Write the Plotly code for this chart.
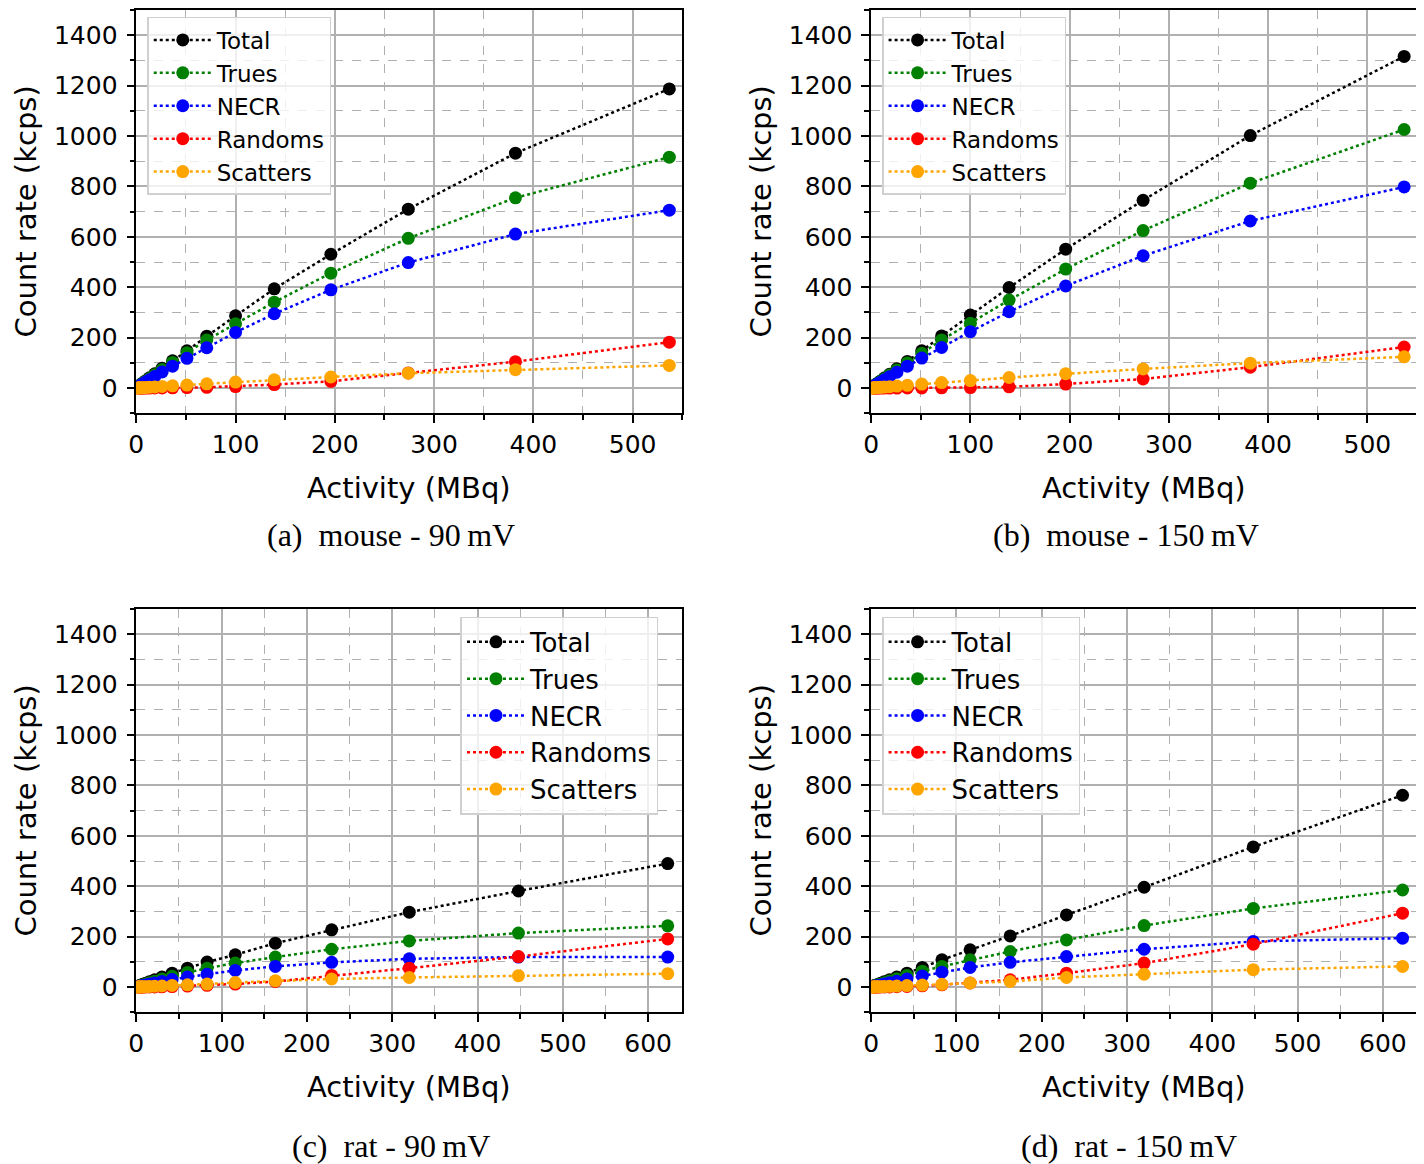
import plotly.graph_objects as go

W, H = 1424, 1164
OFF = 8  # default page body margin of the html file
FW, FH = W - OFF, H - OFF

# ---------------- data ----------------
series_names = ["Total", "Trues", "NECR", "Randoms", "Scatters"]
series_colors = ["#000000", "#008000", "#0000ff", "#ff0000", "#ffa500"]

mouse_activity = [537, 382, 274, 196, 139, 100, 71, 51, 36.5, 26, 18.6, 13.3, 9.5, 6.8, 4.8, 3.4, 2.4, 1.7]
rat_activity = [623, 448, 320, 229, 163, 116, 83, 60, 42, 30, 21.5, 15.3, 11, 7.8, 5.6, 4, 2.8, 2]

# (a) mouse - 90 mV
a_total = [1187, 932, 710, 531, 394, 287, 206, 148, 108, 79, 57, 41, 29, 21, 15, 11, 7.5, 5.4]
a_trues = [916, 755, 594, 456, 341, 255, 191, 140, 102, 74, 53, 38, 27, 19.5, 14, 10, 7, 5]
a_necr = [706, 611, 498, 390, 295, 221, 160, 118, 87, 64, 46, 33, 24, 17, 12, 8.7, 6.2, 4.4]
a_randoms = [182, 105, 60, 27, 14, 6, 3, 2, 1, 0.5, 0.3, 0.2, 0.1, 0.05, 0.03, 0.02, 0.01, 0]
a_scatters = [90, 73, 59, 44, 33, 24, 17, 12, 9, 6.5, 4.6, 3.3, 2.4, 1.7, 1.2, 0.9, 0.6, 0.4]

# (b) mouse - 150 mV
b_total = [1316, 1002, 745, 551, 399, 290, 207, 148, 106, 77, 55, 40, 28, 20, 14.5, 10, 7.4, 5.3]
b_trues = [1026, 813, 625, 472, 349, 257, 191, 138, 100, 72, 52, 37, 27, 19, 13.5, 9.6, 6.9, 4.9]
b_necr = [798, 663, 525, 405, 303, 224, 161, 119, 87, 63, 45, 33, 23, 17, 12, 8.6, 6.1, 4.4]
b_randoms = [163, 83, 36, 16, 5, 2, 1, 0.5, 0.3, 0.2, 0.1, 0.05, 0.03, 0.02, 0.01, 0, 0, 0]
b_scatters = [124, 99, 76, 57, 42, 30, 22, 16, 11, 8, 5.8, 4.1, 3, 2.1, 1.5, 1.1, 0.8, 0.5]

# (c) rat - 90 mV
c_total = [490, 381, 297, 227, 174, 128, 99, 75, 55, 40, 29, 21, 15, 11, 7.8, 5.6, 4, 2.9]
c_trues = [243, 214, 183, 150, 119, 95, 75, 58, 43, 32, 23, 17, 12, 8.6, 6.2, 4.4, 3.1, 2.2]
c_necr = [119, 119, 112, 98, 82, 66, 51, 40, 30, 22, 16, 12, 8.5, 6.1, 4.4, 3.1, 2.2, 1.6]
c_randoms = [191, 121, 75, 46, 22, 12, 7, 4, 2, 1, 0.6, 0.3, 0.2, 0.1, 0.05, 0.03, 0.02, 0.01]
c_scatters = [53, 45, 38, 32, 25, 18, 12, 9, 6.5, 4.6, 3.3, 2.4, 1.7, 1.2, 0.9, 0.6, 0.4, 0.3]

# (d) rat - 150 mV
d_total = [761, 556, 396, 286, 203, 148, 108, 78, 55, 40, 29, 21, 15, 10.5, 7.5, 5.4, 3.8, 2.7]
d_trues = [385, 312, 244, 187, 141, 108, 82, 63, 46, 33, 24, 17, 12, 8.7, 6.2, 4.4, 3.1, 2.2]
d_necr = [194, 181, 150, 121, 98, 78, 59, 44, 32, 23, 17, 12, 8.6, 6.2, 4.4, 3.1, 2.2, 1.6]
d_randoms = [293, 170, 95, 55, 29, 16, 9, 5, 2.5, 1.3, 0.7, 0.4, 0.2, 0.1, 0.05, 0.03, 0.02, 0.01]
d_scatters = [82, 69, 51, 38, 22, 16, 11, 8, 5.7, 4, 2.9, 2.1, 1.5, 1.1, 0.8, 0.5, 0.4, 0.3]

captions = ["(a)\u2002mouse - 90\u2009mV", "(b)\u2002mouse - 150\u2009mV",
            "(c)\u2002rat - 90\u2009mV", "(d)\u2002rat - 150\u2009mV"]
x_title = "Activity (MBq)"
y_title = "Count rate (kcps)"

panels = [
    (mouse_activity, [a_total, a_trues, a_necr, a_randoms, a_scatters]),
    (mouse_activity, [b_total, b_trues, b_necr, b_randoms, b_scatters]),
    (rat_activity, [c_total, c_trues, c_necr, c_randoms, c_scatters]),
    (rat_activity, [d_total, d_trues, d_necr, d_randoms, d_scatters]),
]

# ---------------- layout geometry (pixels of the final page) ----------------
boxes = [  # left, right, top, bottom
    (129, 678, 8, 412),
    (868, 1417, 8, 412),
    (129, 678, 608, 1012),
    (868, 1417, 608, 1012),
]
x_ranges = [[0, 550], [0, 550], [0, 640], [0, 640]]
legend_pos = [(140, 15, 23), (879, 15, 23), (455, 616, 26), (879, 616, 26)]  # left, top, font
caption_pos = [(385, 534), (1124, 534), (385, 1146), (1127, 1146)]

FONT = "DejaVu Sans"


def px(x):
    return (x - OFF) / FW


def py(y):
    return 1 - (y - OFF) / FH


fig = go.Figure()
annotations = []
layout = dict(
    width=FW, height=FH,
    margin=dict(l=0, r=0, t=0, b=0),
    paper_bgcolor="white", plot_bgcolor="white",
    font=dict(family=FONT, color="black", size=25),
    showlegend=True,
)

for i, ((xs, ys), (l, r, t, b)) in enumerate(zip(panels, boxes)):
    n = "" if i == 0 else str(i + 1)
    leg = "legend" if i == 0 else f"legend{i + 1}"
    for name, color, yv in zip(series_names, series_colors, ys):
        fig.add_trace(go.Scatter(
            x=xs, y=yv, name=name, mode="lines+markers",
            line=dict(color=color, width=2.5, dash="dot"),
            marker=dict(color=color, size=13),
            xaxis="x" + n, yaxis="y" + n, legend=leg,
        ))
    common = dict(
        showline=True, linecolor="black", linewidth=1.5, mirror=True,
        showgrid=True, gridcolor="#b0b0b0", gridwidth=2,
        ticks="outside", ticklen=8, tickwidth=1.5, tickcolor="black",
        tickfont=dict(family=FONT, size=25, color="black"),
        zeroline=False,
    )
    layout["xaxis" + n] = dict(
        common, domain=[px(l), px(r)], range=x_ranges[i], anchor="y" + n,
        tick0=0, dtick=100,
        minor=dict(dtick=50, tick0=0, showgrid=True, gridcolor="#b0b0b0", gridwidth=1,
                   griddash="dash", ticks="outside", ticklen=5, tickwidth=1.5, tickcolor="black"),
    )
    layout["yaxis" + n] = dict(
        common, domain=[py(b), py(t)], range=[-100, 1500], anchor="x" + n,
        tickvals=[0, 200, 400, 600, 800, 1000, 1200, 1400],
        ticklabelstandoff=4,
        minor=dict(dtick=100, tick0=0, showgrid=True, gridcolor="#b0b0b0", gridwidth=1,
                   griddash="dash", ticks="outside", ticklen=5, tickwidth=1.5, tickcolor="black"),
    )
    ll, lt, lf = legend_pos[i]
    layout[leg] = dict(
        x=px(ll), y=py(lt), xanchor="left", yanchor="top",
        bgcolor="rgba(255,255,255,0.8)", bordercolor="#d0d0d0", borderwidth=1.5,
        font=dict(family=FONT, size=lf, color="black"),
        itemsizing="trace", tracegroupgap=0, itemwidth=58,
    )
    cx = (l + r) / 2
    annotations.append(dict(text=x_title, x=px(cx), y=py(b + 75), xref="paper", yref="paper",
                            showarrow=False, xanchor="center", yanchor="middle",
                            font=dict(family=FONT, size=29, color="black")))
    annotations.append(dict(text=y_title, x=px(l - 111), y=py((t + b) / 2), xref="paper", yref="paper",
                            showarrow=False, xanchor="center", yanchor="middle", textangle=-90,
                            font=dict(family=FONT, size=29, color="black")))
    cpx, cpy = caption_pos[i]
    annotations.append(dict(text=captions[i], x=px(cpx), y=py(cpy), xref="paper", yref="paper",
                            showarrow=False, xanchor="center", yanchor="middle",
                            font=dict(family="Liberation Serif", size=32, color="black")))

layout["annotations"] = annotations
fig.update_layout(**layout)
fig.write_html("out.html")
